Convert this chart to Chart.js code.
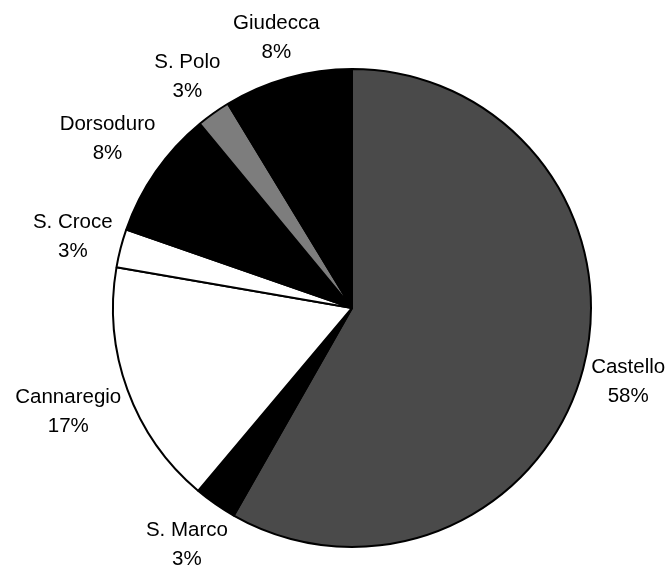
<!DOCTYPE html>
<html lang="it">
<head>
    <meta charset="UTF-8">
    <title>Sestieri</title>
    <script src="https://cdn.jsdelivr.net/npm/chart.js"></script>
    <style>
        * { margin: 0; padding: 0; box-sizing: border-box; }
        body { background: #fff; width: 668px; height: 569px; overflow: hidden; }
        .wrap { position: relative; width: 668px; height: 569px; }
    </style>
</head>
<body>
    <div class="wrap">
        <canvas id="pie"></canvas>
    </div>
    <script>
        // sestieri, clockwise from 12 o'clock
        const categories = ['Castello', 'S. Marco', 'Cannaregio', 'S. Croce', 'Dorsoduro', 'S. Polo', 'Giudecca'];
        const shares = [58.3, 2.9, 16.6, 2.6, 8.7, 2.3, 8.7];
        const shareLabels = ['58%', '3%', '17%', '3%', '8%', '3%', '8%'];
        const fills = ['#4a4a4a', '#000000', '#ffffff', '#ffffff', '#000000', '#7d7d7d', '#000000'];

        // labels outside the pie, two lines each; the text block sits just off the rim
        const outsideLabels = {
            id: 'outsideLabels',
            afterDatasetsDraw(chart) {
                const ctx = chart.ctx;
                const arcs = chart.getDatasetMeta(0).data;
                ctx.save();
                ctx.font = '20.5px "Liberation Sans", Arial, sans-serif';
                ctx.fillStyle = '#000';
                ctx.textAlign = 'center';
                ctx.textBaseline = 'middle';
                arcs.forEach((arc, i) => {
                    const mid = (arc.startAngle + arc.endAngle) / 2;
                    const ux = Math.cos(mid), uy = Math.sin(mid);
                    const halfW = Math.max(ctx.measureText(categories[i]).width, ctx.measureText(shareLabels[i]).width) / 2;
                    const halfH = 27;
                    const d = arc.outerRadius + 4 + Math.abs(ux) * halfW + Math.abs(uy) * halfH;
                    const x = arc.x + ux * d;
                    const y = arc.y + uy * d;
                    ctx.fillText(categories[i], x, y - 14);
                    ctx.fillText(shareLabels[i], x, y + 15);
                });
                ctx.restore();
            }
        };

        new Chart(document.getElementById('pie'), {
            type: 'pie',
            data: {
                labels: categories,
                datasets: [{
                    data: shares,
                    backgroundColor: fills,
                    borderColor: '#000',
                    borderWidth: 2
                }]
            },
            options: {
                responsive: true,
                maintainAspectRatio: false,
                animation: false,
                layout: { padding: { top: 68, bottom: 21, left: 112, right: 76 } },
                plugins: {
                    legend: { display: false },
                    tooltip: { enabled: false }
                }
            },
            plugins: [outsideLabels]
        });
    </script>
</body>
</html>
